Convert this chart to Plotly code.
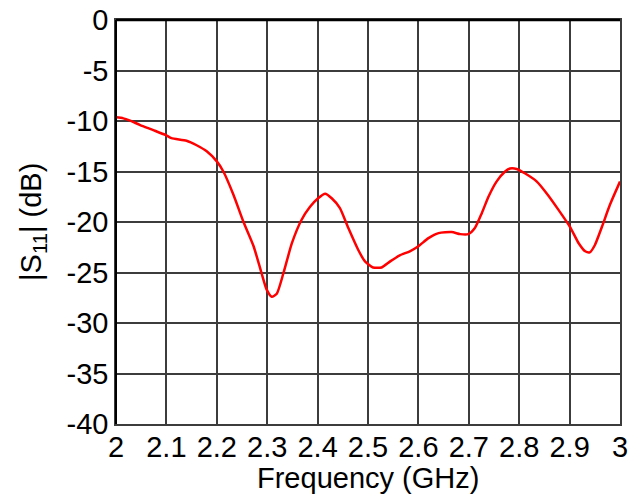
import plotly.graph_objects as go

freq = [2.0, 2.0145, 2.028, 2.048, 2.074, 2.099, 2.11, 2.14, 2.16, 2.18, 2.2, 2.213,
        2.233, 2.253, 2.273, 2.289, 2.299, 2.309, 2.319, 2.332, 2.349, 2.368, 2.385,
        2.401, 2.415, 2.428, 2.444, 2.461, 2.481, 2.494, 2.51, 2.527, 2.544, 2.563,
        2.583, 2.6, 2.62, 2.64, 2.666, 2.683, 2.699, 2.712, 2.726, 2.739, 2.755,
        2.772, 2.782, 2.795, 2.812, 2.835, 2.855, 2.878, 2.901, 2.918, 2.931, 2.94,
        2.95, 2.964, 2.98, 3.0]
s11 = [-9.64, -9.74, -9.97, -10.4, -10.9, -11.4, -11.7, -11.95, -12.4, -13.0, -14.0, -15.0,
       -17.3, -20.0, -22.4, -25.1, -26.7, -27.4, -27.1, -25.1, -22.1, -19.8, -18.5,
       -17.65, -17.2, -17.65, -18.6, -20.6, -22.8, -23.9, -24.5, -24.5, -23.9, -23.3,
       -22.9, -22.4, -21.6, -21.1, -21.0, -21.2, -21.2, -20.6, -19.1, -17.5, -16.0,
       -15.0, -14.7, -14.75, -15.2, -16.0, -17.2, -18.8, -20.5, -22.1, -22.9, -23.0,
       -22.3, -20.5, -18.3, -16.0]

x_ticks = [2.0, 2.1, 2.2, 2.3, 2.4, 2.5, 2.6, 2.7, 2.8, 2.9, 3.0]
x_labels = ["2", "2.1", "2.2", "2.3", "2.4", "2.5", "2.6", "2.7", "2.8", "2.9", "3"]
y_ticks = [0, -5, -10, -15, -20, -25, -30, -35, -40]
y_labels = ["0", "-5", "-10", "-15", "-20", "-25", "-30", "-35", "-40"]
x_title = "Frequency (GHz)"
y_title = "|S<sub>11</sub>| (dB)"

font_family = "Liberation Sans, Arial, sans-serif"

fig = go.Figure()
fig.add_trace(go.Scatter(
    x=freq, y=s11, mode="lines",
    line=dict(color="#ff0000", width=2.5, shape="spline", smoothing=0.6),
    showlegend=False, hoverinfo="skip",
))

fig.update_layout(
    width=639, height=496,
    margin=dict(l=116, r=19, t=20, b=72, autoexpand=False),
    paper_bgcolor="white", plot_bgcolor="white",
    font=dict(family=font_family, size=29, color="black"),
)
fig.update_xaxes(
    range=[2, 3], tickvals=x_ticks, ticktext=x_labels, automargin=False,
    showgrid=True, gridcolor="#3c3c3c", gridwidth=1.5,
    showline=True, mirror=True, linecolor="#3c3c3c", linewidth=1.5,
    zeroline=False, ticks="", ticklabelstandoff=-4,
    tickfont=dict(size=29, family=font_family),
)
fig.update_yaxes(
    range=[-40, 0], tickvals=y_ticks, ticktext=y_labels, automargin=False,
    showgrid=True, gridcolor="#3c3c3c", gridwidth=1.5,
    showline=True, mirror=True, linecolor="#3c3c3c", linewidth=1.5,
    zeroline=False, ticks="",
    tickfont=dict(size=29, family=font_family),
)
# axis titles
fig.add_annotation(text=x_title, xref="paper", yref="paper", x=0.5, y=-54 / 404,
                   xanchor="center", yanchor="middle", showarrow=False,
                   font=dict(size=29, family=font_family, color="black"))
fig.add_annotation(text=y_title, xref="paper", yref="paper", x=-83 / 504, y=0.5,
                   xanchor="center", yanchor="middle", showarrow=False, textangle=-90,
                   font=dict(size=29, family=font_family, color="black"))
# darker top and left frame edges
fig.add_shape(type="line", xref="paper", yref="paper", x0=0, x1=1, y0=1, y1=1,
              line=dict(color="black", width=2.5))
fig.add_shape(type="line", xref="paper", yref="paper", x0=0, x1=0, y0=0, y1=1,
              line=dict(color="black", width=2))

fig.write_html("out.html")
